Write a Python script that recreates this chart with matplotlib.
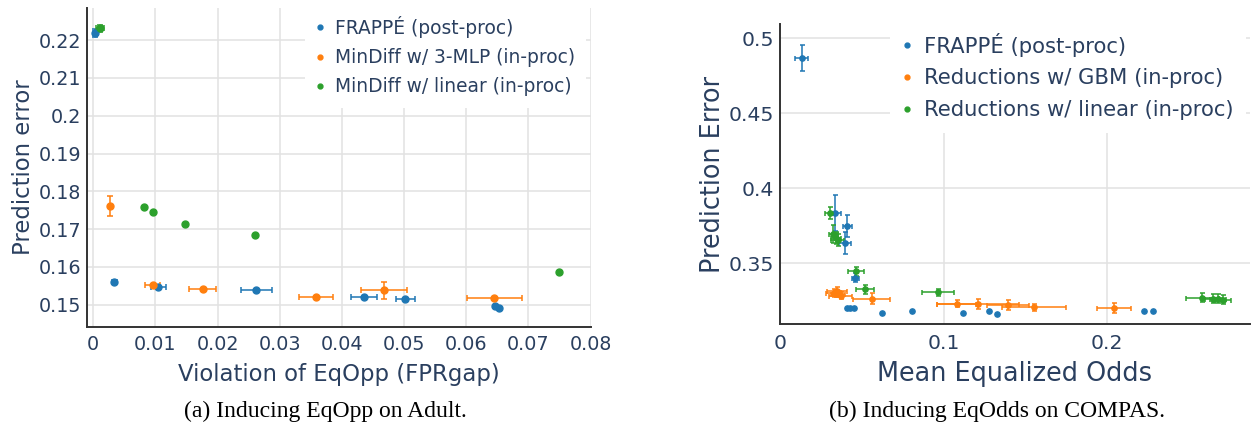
import numpy as np
import matplotlib.pyplot as plt
from matplotlib.lines import Line2D

BLUE, ORANGE, GREEN = '#1f77b4', '#ff7f0e', '#2ca02c'
TXT = '#2a3f5f'
GRID = '#e2e2e2'

# ---- (a) Adult, EqOpp ----
a_frappe_x = [0.0003, 0.0034, 0.0105, 0.0262, 0.0436, 0.0502, 0.0646, 0.0652]
a_frappe_y = [0.2218, 0.1559, 0.1547, 0.1539, 0.1520, 0.1516, 0.1497, 0.1492]
a_frappe_xe = [0.0003, 0.0004, 0.0012, 0.0025, 0.0021, 0.0015, 0.0, 0.0]
a_frappe_ye = [0.0011, 0.0002, 0.0002, 0.0002, 0.0002, 0.0002, 0.0, 0.0]

a_mlp_x = [0.0027, 0.0096, 0.0176, 0.0358, 0.0467, 0.0645]
a_mlp_y = [0.1761, 0.1553, 0.1542, 0.1521, 0.1538, 0.1519]
a_mlp_xe = [0.0, 0.0012, 0.0022, 0.0027, 0.0037, 0.0044]
a_mlp_ye = [0.0026, 0.0002, 0.0002, 0.0002, 0.0023, 0.0002]

a_lin_x = [0.0011, 0.0081, 0.0097, 0.0147, 0.0261, 0.0749]
a_lin_y = [0.2231, 0.1758, 0.1746, 0.1714, 0.1684, 0.1586]
a_lin_xe = [0.0006, 0.0, 0.0, 0.0, 0.0, 0.0]
a_lin_ye = [0.0009, 0.0, 0.0, 0.0, 0.0, 0.0]

# ---- (b) COMPAS, EqOdds ----
b_frappe_x = [0.0132, 0.0339, 0.0412, 0.0400, 0.0461, 0.041, 0.043, 0.045,
              0.0622, 0.0806, 0.1118, 0.1277, 0.1326, 0.2225, 0.2278]
b_frappe_y = [0.4867, 0.3835, 0.3747, 0.3635, 0.3402, 0.3198, 0.3198, 0.3199,
              0.3165, 0.3180, 0.3165, 0.3178, 0.3163, 0.3180, 0.3180]
b_frappe_xe = [0.0041, 0.0037, 0.0027, 0.0037, 0.0020, 0, 0, 0, 0, 0, 0, 0, 0, 0, 0]
b_frappe_ye = [0.0087, 0.0120, 0.0075, 0.0073, 0.0030, 0, 0, 0, 0, 0, 0, 0, 0, 0, 0]

b_gbm_x = [0.033, 0.035, 0.036, 0.037, 0.034, 0.0561, 0.108, 0.121, 0.1394, 0.1553, 0.2043]
b_gbm_y = [0.3300, 0.3310, 0.3290, 0.3282, 0.3295, 0.3262, 0.3229, 0.3225, 0.3222, 0.3204, 0.3199]
b_gbm_xe = [0.005, 0.006, 0.004, 0.007, 0.003, 0.0114, 0.012, 0.0249, 0.013, 0.0194, 0.0104]
b_gbm_ye = [0.0025, 0.003, 0.002, 0.0025, 0.002, 0.0036, 0.0025, 0.0033, 0.0033, 0.0025, 0.0033]

b_lin_x = [0.0306, 0.0327, 0.0353, 0.0340, 0.0465, 0.0522, 0.0965, 0.2582, 0.265, 0.268, 0.271]
b_lin_y = [0.3835, 0.3693, 0.3653, 0.3670, 0.3444, 0.3325, 0.3305, 0.3268, 0.3262, 0.3260, 0.3255]
b_lin_xe = [0.003, 0.003, 0.004, 0.003, 0.0051, 0.0055, 0.0097, 0.0102, 0.005, 0.005, 0.005]
b_lin_ye = [0.004, 0.006, 0.004, 0.004, 0.003, 0.003, 0.0025, 0.003, 0.003, 0.003, 0.003]


def draw(ax, x, y, xe, ye, color, ms, cap):
    for xi, yi, xei, yei in zip(x, y, xe, ye):
        if xei > 0 or yei > 0:
            ax.errorbar(xi, yi, xerr=xei if xei > 0 else None, yerr=yei if yei > 0 else None,
                        fmt='none', ecolor=color, elinewidth=1.1, capsize=cap, capthick=1.1, zorder=3)
    ax.plot(x, y, 'o', color=color, ms=ms, mec=color, zorder=4)


def style(ax, fs, xpad):
    for s in ['top', 'right']:
        ax.spines[s].set_visible(False)
    for s in ['left', 'bottom']:
        ax.spines[s].set_color('#333333')
        ax.spines[s].set_linewidth(1.4)
    ax.grid(True, color=GRID, lw=1.1)
    ax.set_axisbelow(True)
    ax.tick_params(length=0, labelcolor=TXT, labelsize=fs)
    ax.tick_params(axis='x', pad=xpad)
    ax.tick_params(axis='y', pad=4)


def fmt(v):
    s = ('%.2f' % v).rstrip('0').rstrip('.')
    return s


fig = plt.figure(figsize=(12.51, 4.33), dpi=100)
ax1 = fig.add_axes([0.0695, 0.2448, 0.4026, 0.7367])
ax2 = fig.add_axes([0.6235, 0.2517, 0.3757, 0.6928])

draw(ax1, a_frappe_x, a_frappe_y, a_frappe_xe, a_frappe_ye, BLUE, 5, 2.5)
draw(ax1, a_mlp_x, a_mlp_y, a_mlp_xe, a_mlp_ye, ORANGE, 5, 2.5)
draw(ax1, a_lin_x, a_lin_y, a_lin_xe, a_lin_ye, GREEN, 5, 2.5)

draw(ax2, b_frappe_x, b_frappe_y, b_frappe_xe, b_frappe_ye, BLUE, 3.8, 1.8)
draw(ax2, b_gbm_x, b_gbm_y, b_gbm_xe, b_gbm_ye, ORANGE, 3.8, 1.8)
draw(ax2, b_lin_x, b_lin_y, b_lin_xe, b_lin_ye, GREEN, 3.8, 1.8)

# left axes
ax1.set_xlim(-0.001, 0.08)
ax1.set_ylim(0.1441, 0.2285)
xt = np.arange(0, 0.081, 0.01)
ax1.set_xticks(xt)
ax1.set_xticklabels([fmt(v) for v in xt])
yt = np.arange(0.15, 0.2201, 0.01)
ax1.set_yticks(yt)
ax1.set_yticklabels([fmt(v) for v in yt])
style(ax1, 13.8, 6)
ax1.set_xlabel('Violation of EqOpp (FPRgap)', color=TXT, fontsize=16.4, labelpad=6)
ax1.set_ylabel('Prediction error', color=TXT, fontsize=16.4)
ax1.yaxis.set_label_coords(-0.103, 0.5)

# right axes
ax2.set_xlim(0, 0.2874)
ax2.set_ylim(0.3093, 0.5095)
ax2.set_xticks([0, 0.1, 0.2])
ax2.set_xticklabels(['0', '0.1', '0.2'])
ax2.set_yticks([0.35, 0.4, 0.45, 0.5])
ax2.set_yticklabels(['0.35', '0.4', '0.45', '0.5'])
style(ax2, 14.7, 7)
ax2.set_xlabel('Mean Equalized Odds', color=TXT, fontsize=18.4, labelpad=6)
ax2.set_ylabel('Prediction Error', color=TXT, fontsize=18.4)
ax2.yaxis.set_label_coords(-0.115, 0.5)


def legend(ax, labels, anchor, fs):
    h = [Line2D([], [], ls='none', marker='o', ms=3.5, color=c) for c in (BLUE, ORANGE, GREEN)]
    lg = ax.legend(h, labels, loc='upper left', bbox_to_anchor=anchor, frameon=True,
                   fancybox=False, framealpha=1, edgecolor='none', facecolor='white',
                   handlelength=0.4, handletextpad=0.6, labelspacing=0.55,
                   borderpad=0.6, borderaxespad=0, fontsize=fs)
    for t in lg.get_texts():
        t.set_color(TXT)
    lg.set_zorder(10)


legend(ax1, ['FRAPPÉ (post-proc)', 'MinDiff w/ 3-MLP (in-proc)', 'MinDiff w/ linear (in-proc)'],
       (0.433, 1.01), 13.4)
legend(ax2, ['FRAPPÉ (post-proc)', 'Reductions w/ GBM (in-proc)', 'Reductions w/ linear (in-proc)'],
       (0.234, 1.013), 15.2)

fig.text(0.260, 0.049, '(a) Inducing EqOpp on Adult.', ha='center', va='center',
         family='Liberation Serif', fontsize=17, color='black')
fig.text(0.797, 0.049, '(b) Inducing EqOdds on COMPAS.', ha='center', va='center',
         family='Liberation Serif', fontsize=17, color='black')

fig.savefig('out.png', dpi=100)
